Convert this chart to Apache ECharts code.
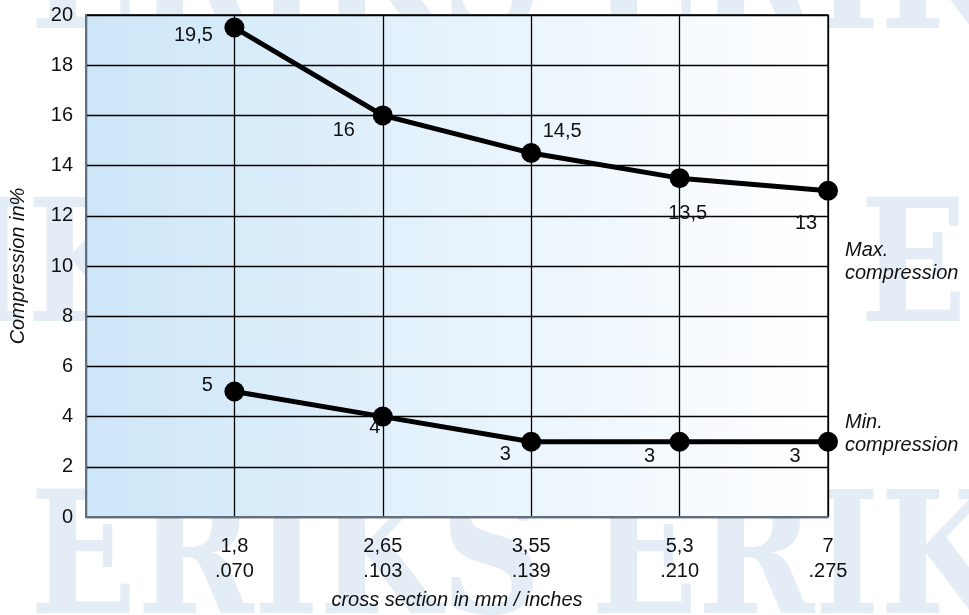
<!DOCTYPE html>
<html><head><meta charset="utf-8">
<script src="https://cdn.jsdelivr.net/npm/echarts@6/dist/echarts.min.js"></script>
<style>html,body{margin:0;padding:0;background:#fff}#c{width:969px;height:615px}</style>
</head><body><div id="c"></div>
<script>
// ---- data ----
const categoriesMm = ['1,8', '2,65', '3,55', '5,3', '7'];
const categoriesInch = ['.070', '.103', '.139', '.210', '.275'];
const maxValues = [19.5, 16, 14.5, 13.5, 13];
const minValues = [5, 4, 3, 3, 3];
const maxLabels = ['19,5', '16', '14,5', '13,5', '13'];
const minLabels = ['5', '4', '3', '3', '3'];
const yMin = 0, yMax = 20, yStep = 2;
const seriesNames = ['Max.\ncompression', 'Min.\ncompression'];
const yAxisName = 'Compression in%';
const xAxisName = 'cross section in mm / inches';

// ---- style (label placement) ----
const maxLabelOffsets = [[-41, 8], [-39, 15], [31, -22], [8, 35], [-22, 33]];
const minLabelOffsets = [[-27, -6], [-8, 11], [-26, 13], [-30, 15], [-33, 15]];

const FONT = 'Liberation Sans, Arial, Helvetica, sans-serif';
const chart = echarts.init(document.getElementById('c'), null, {renderer: 'canvas'});

function buildData(values, labels, offsets) {
  return values.map((v, i) => ({
    value: [i + 1, v],
    label: {show: true, position: 'inside', formatter: labels[i], offset: offsets[i]}
  }));
}

const wmColor = '#e4edf5';
const wmFont = {fontFamily: 'DejaVu Serif', fontWeight: 'bold', fontSize: 171};
function wm(text, x, y) {
  return {type: 'text', z: -1, silent: true, x: x, y: y, scaleX: 0.82,
    style: Object.assign({text: text, fill: wmColor, textVerticalAlign: 'top'}, wmFont)};
}

const option = {
  animation: false,
  backgroundColor: '#ffffff',
  graphic: [
    wm('ERIKS ERIKS', 30, -102),
    wm('ERIKS ERIKS ERIKS', -262, 191),
    wm('ERIKS ERIKS', 30, 483),
    {type: 'text', x: 845, y: 239, style: {text: seriesNames[0], fill: '#111', font: 'italic 20px ' + FONT, lineHeight: 23}},
    {type: 'text', x: 845, y: 411, style: {text: seriesNames[1], fill: '#111', font: 'italic 20px ' + FONT, lineHeight: 23}}
  ],
  grid: {
    left: 86, right: 141, top: 15, bottom: 98,
    containLabel: false, outerBoundsMode: 'none',
    show: true, borderColor: '#000', borderWidth: 1.3,
    backgroundColor: {type: 'linear', x: 0, y: 0, x2: 1, y2: 0,
      colorStops: [{offset: 0, color: '#cde6f8'}, {offset: 1, color: '#ffffff'}]}
  },
  xAxis: {
    type: 'value', min: 0, max: categoriesMm.length, interval: 1,
    name: xAxisName, nameLocation: 'middle', nameGap: 73,
    nameTextStyle: {fontFamily: FONT, fontSize: 20, fontStyle: 'italic', color: '#111'},
    axisLine: {show: true, lineStyle: {color: '#5f7080', width: 2}},
    axisTick: {show: false},
    splitLine: {show: true, lineStyle: {color: '#000', width: 1.3}},
    axisLabel: {
      margin: 17, fontFamily: FONT, fontSize: 20, color: '#111', lineHeight: 25,
      formatter: v => (v >= 1 && v <= categoriesMm.length) ? categoriesMm[v - 1] + '\n' + categoriesInch[v - 1] : ''
    }
  },
  yAxis: {
    type: 'value', min: yMin, max: yMax, interval: yStep,
    name: yAxisName, nameLocation: 'middle', nameGap: 58,
    nameTextStyle: {fontFamily: FONT, fontSize: 20, fontStyle: 'italic', color: '#111'},
    axisLine: {show: true, lineStyle: {color: '#5f7080', width: 2}},
    axisTick: {show: false},
    splitLine: {show: true, lineStyle: {color: '#000', width: 1.3}},
    axisLabel: {margin: 13, fontFamily: FONT, fontSize: 20, color: '#111'}
  },
  series: [
    {
      name: 'max', type: 'line', data: buildData(maxValues, maxLabels, maxLabelOffsets),
      symbol: 'circle', symbolSize: 20, showAllSymbol: true,
      lineStyle: {color: '#000', width: 5}, itemStyle: {color: '#000'},
      label: {fontFamily: FONT, fontSize: 20, color: '#111'}, z: 3
    },
    {
      name: 'min', type: 'line', data: buildData(minValues, minLabels, minLabelOffsets),
      symbol: 'circle', symbolSize: 20, showAllSymbol: true,
      lineStyle: {color: '#000', width: 5}, itemStyle: {color: '#000'},
      label: {fontFamily: FONT, fontSize: 20, color: '#111'}, z: 3
    }
  ]
};
chart.setOption(option);
</script>
</body></html>
